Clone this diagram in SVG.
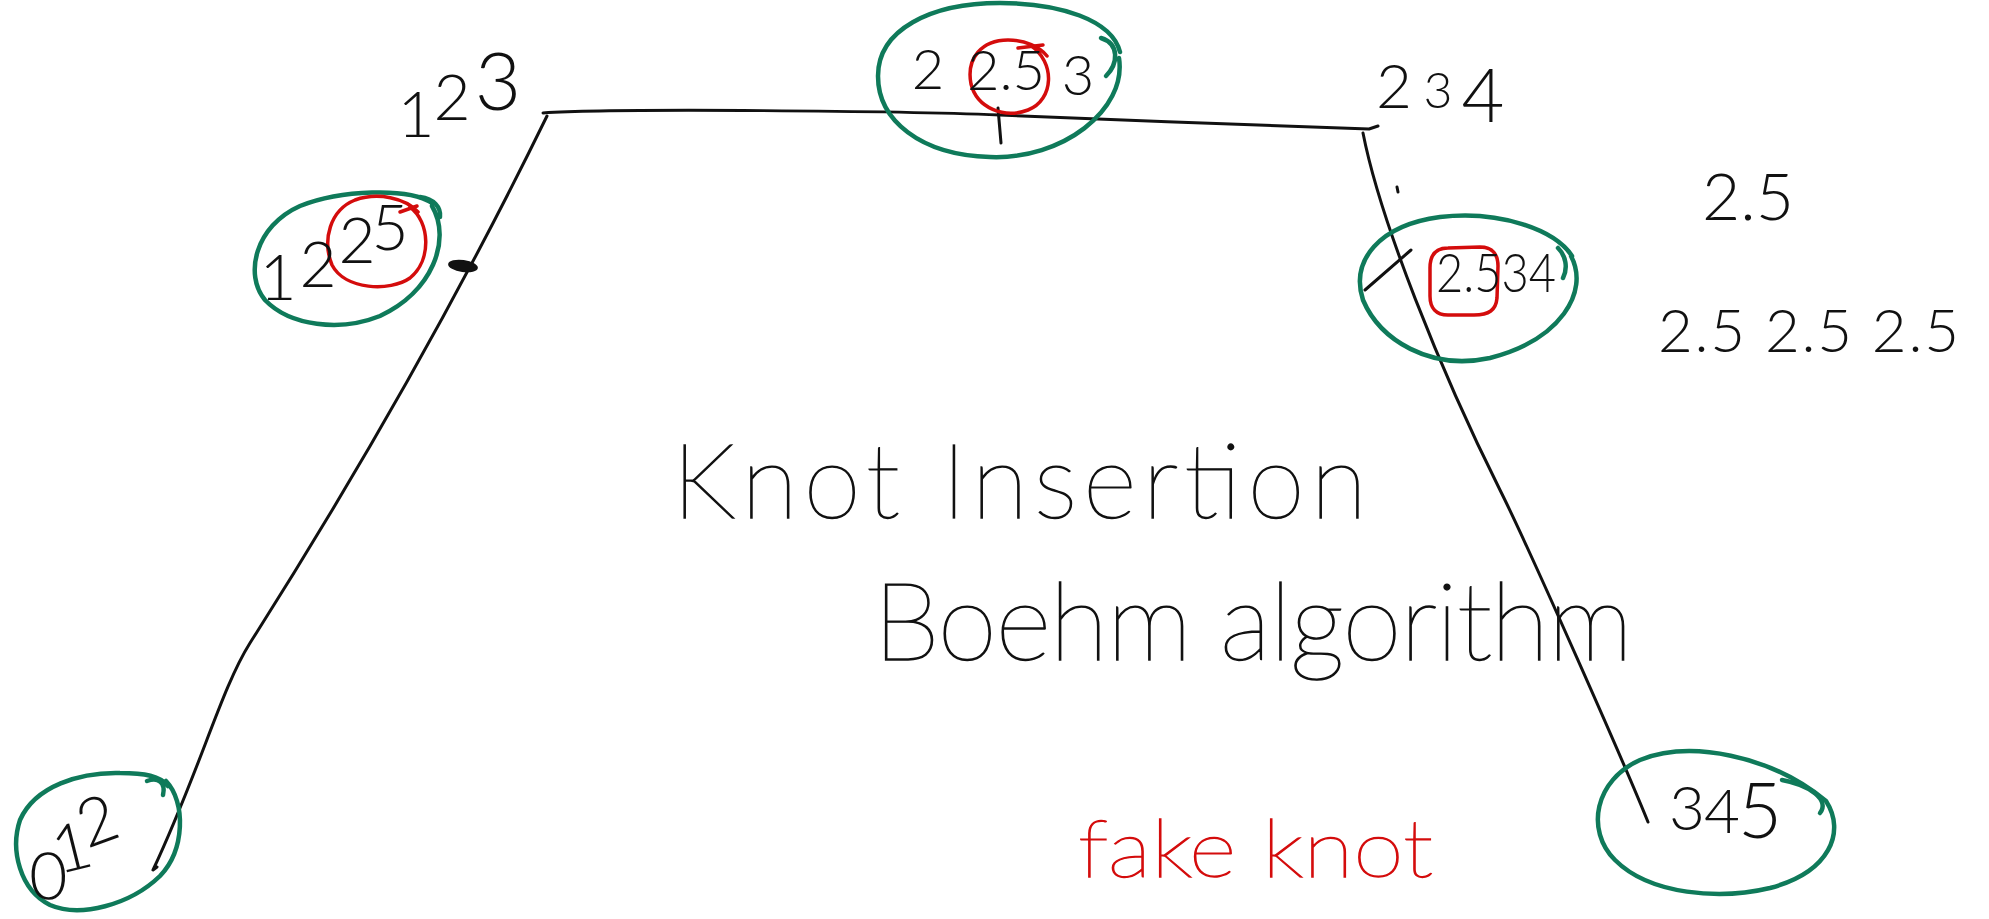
<svg xmlns="http://www.w3.org/2000/svg" width="1989" height="919" viewBox="0 0 1989 919">
  <style>
    .ink { fill: none; stroke: #111; stroke-width: 3; stroke-linecap: round; stroke-linejoin: round; }
    .loop { fill: none; stroke: #0f7a5a; stroke-width: 4.5; stroke-linecap: round; stroke-linejoin: round; }
    .mark { fill: none; stroke: #d40c0c; stroke-width: 3.5; stroke-linecap: round; stroke-linejoin: round; }
    .hw { font-family: Lato, "Open Sans", "Liberation Sans", sans-serif; font-weight: 300; fill: #111; }
    .thin { font-weight: 100; stroke: #111; stroke-width: 1.3; }
    .num { text-anchor: middle; }
    .red { fill: #d40c0c; stroke: #d40c0c; }
  </style>
  <rect width="1989" height="919" fill="#fff"/>

  <!-- control polygon of the curve -->
  <g id="connectors">
    <path class="ink" d="M547,116 C461,292 362,467 250,643 C221,689 200,770 153,870 L157,867"/>
    <path class="ink" stroke-width="3.5" d="M543,113 C620,108 900,111 1000,115 S1300,127 1369,129 L1378,126"/>
    <path class="ink" d="M1363,133 C1380,220 1440,370 1500,490 C1530,550 1625,765 1648,822"/>
    <!-- inserted knot positions on the edges -->
    <path class="ink" stroke-width="3.5" d="M998,108 L1001,143"/>
    <ellipse cx="463" cy="266" rx="15" ry="6" transform="rotate(8 463 266)" fill="#111"/>
    <path class="ink" d="M1397,187 L1398,192"/>
  </g>

  <!-- corner labels -->
  <g id="node-123">
    <text class="hw num" font-size="64"><tspan x="416" y="137">1</tspan><tspan x="452" y="120">2</tspan></text>
    <text class="hw num" font-size="80" x="498" y="110">3</text>
  </g>
  <g id="node-234">
    <text class="hw num" font-size="62"><tspan x="1394" y="108">2</tspan></text>
    <text class="hw num" font-size="50"><tspan x="1438" y="108">3</tspan></text>
    <text class="hw num" font-size="74"><tspan x="1483" y="122">4</tspan></text>
  </g>

  <!-- new control points after insertion -->
  <g id="node-2-25-3">
    <path class="loop" d="M1119,58 C1127,110 1062,160 990,157 C920,155 878,120 878,76 C878,30 930,3 1000,3 C1060,3 1112,20 1120,52"/>
    <path class="loop" d="M1101,38 C1120,44 1118,64 1106,76"/>
    <path class="mark" d="M1030,45 C1056,62 1054,100 1028,110 C1004,119 977,108 971,84 C966,58 982,40 1008,40 C1025,40 1040,47 1047,56"/>
    <path class="mark" d="M1018,48 L1043,45"/>
    <text class="hw num" font-size="56"><tspan x="928" y="89">2</tspan><tspan x="1006" y="90">2.5</tspan><tspan x="1078" y="95">3</tspan></text>
  </g>

  <g id="node-1-2-25">
    <path class="loop" d="M432,206 C452,240 432,292 380,316 C340,332 290,326 265,300 C244,275 255,226 300,206 C340,190 408,187 432,203"/>
    <path class="loop" d="M420,197 C434,199 441,207 440,217"/>
    <path class="mark" d="M410,207 C430,222 432,260 410,278 C390,292 345,290 332,265 C322,240 330,210 355,200 C378,192 405,198 418,212"/>
    <path class="mark" d="M400,212 L417,206"/>
    <text class="hw num" font-size="64"><tspan x="278" y="300">1</tspan><tspan x="318" y="287">2</tspan><tspan x="357" y="263">2</tspan><tspan x="390" y="250">5</tspan></text>
  </g>

  <g id="node-25-3-4">
    <path class="loop" d="M1571,256 C1590,292 1560,340 1490,358 C1430,371 1380,340 1363,300 C1350,260 1380,225 1440,217 C1500,210 1555,230 1572,256"/>
    <path class="loop" d="M1558,248 C1566,256 1568,268 1563,278"/>
    <path class="mark" d="M1448,248 L1480,247 C1493,247 1498,255 1498,266 L1497,298 C1496,310 1489,315 1474,315 L1448,315 C1436,315 1430,308 1430,296 L1430,268 C1430,255 1436,248 1448,248 Z"/>
    <path class="ink" d="M1365,290 L1411,250"/>
    <text class="hw" font-size="54" x="1436" y="292" textLength="120" lengthAdjust="spacingAndGlyphs">2.534</text>
  </g>

  <g id="node-012">
    <path class="loop" d="M166,781 C186,802 185,850 160,876 C130,905 80,918 50,905 C20,890 10,850 20,820 C35,786 80,772 120,773 C145,773 160,776 168,786"/>
    <path class="loop" d="M147,781 C158,777 166,782 163,795"/>
    <text class="hw" font-size="66" x="30" y="900" transform="rotate(-42 30 900)" rotate="40 28 22">012</text>
  </g>

  <g id="node-345">
    <path class="loop" d="M1826,801 C1846,832 1830,872 1770,888 C1720,900 1650,895 1615,860 C1585,830 1595,780 1640,760 C1690,740 1770,755 1826,801"/>
    <path class="loop" d="M1782,780 C1810,785 1830,800 1820,813"/>
    <text class="hw num" font-size="62"><tspan x="1687" y="830">3</tspan><tspan x="1722" y="833">4</tspan></text>
    <text class="hw num" font-size="76" x="1760" y="838">5</text>
  </g>

  <!-- side notes -->
  <g id="note-knot">
    <text class="hw num" font-size="66" x="1748" y="220">2.5</text>
  </g>
  <g id="note-multiplicity">
    <text class="hw" font-size="60" x="1658" y="352" textLength="301">2.5 2.5 2.5</text>
  </g>

  <g id="title">
    <text class="hw thin" font-size="104" x="672" y="518" textLength="695">Knot Insertion</text>
    <text class="hw thin" font-size="108" x="873" y="660" textLength="760">Boehm algorithm</text>
  </g>

  <g id="note-fake">
    <text class="hw thin red" font-size="80" x="1078" y="877" textLength="355" lengthAdjust="spacingAndGlyphs">fake knot</text>
  </g>
</svg>
